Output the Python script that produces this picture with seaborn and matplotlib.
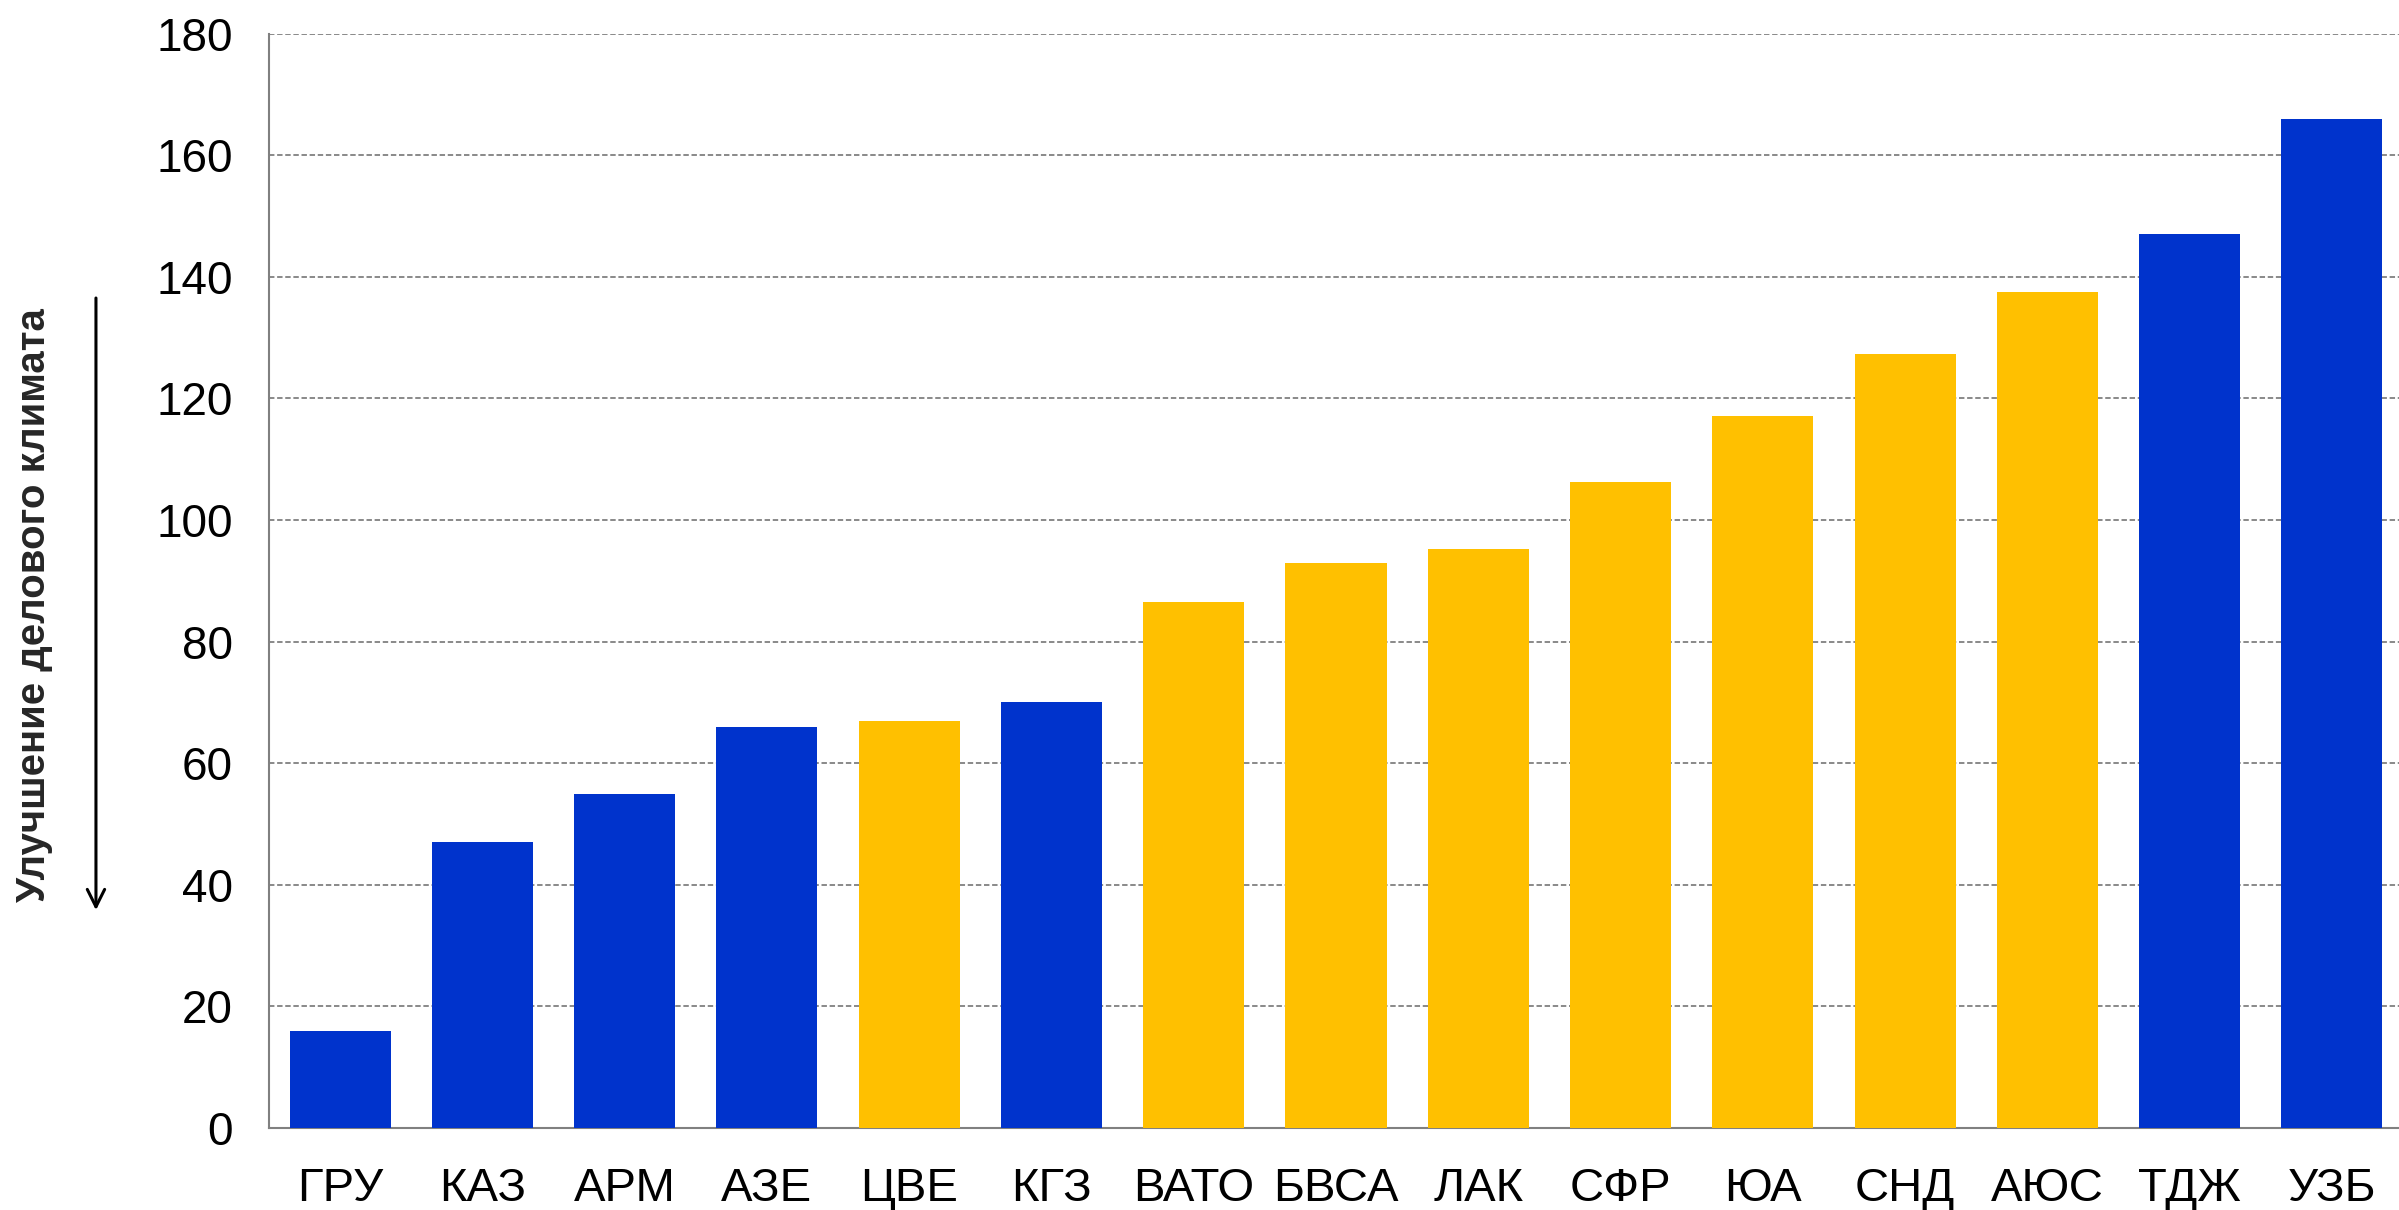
import numpy as np
import pandas as pd
import matplotlib
matplotlib.use('Agg')
import matplotlib.pyplot as plt
import seaborn as sns

# данные
countries = ['ГРУ', 'КАЗ', 'АРМ', 'АЗЕ', 'ЦВЕ', 'КГЗ', 'ВАТО', 'БВСА', 'ЛАК',
             'СФР', 'ЮА', 'СНД', 'АЮС', 'ТДЖ', 'УЗБ']
rank = [16, 47, 55, 66, 67, 70, 86.6, 93, 95.2, 106.2, 117.1, 127.4, 137.5, 147, 166]
group = ['страна', 'страна', 'страна', 'страна', 'регион', 'страна', 'регион', 'регион',
         'регион', 'регион', 'регион', 'регион', 'регион', 'страна', 'страна']
yticks = [0, 20, 40, 60, 80, 100, 120, 140, 160, 180]

df = pd.DataFrame({'страна': countries, 'место': rank, 'группа': group})
palette = {'страна': '#0033CC', 'регион': '#FFC000'}

sns.set_style('white')
plt.rcParams['font.family'] = ['Liberation Sans', 'DejaVu Sans']

fig = plt.figure(figsize=(23.99, 12.10), dpi=100)
ax = fig.add_axes([0.1121, 0.0678, 0.8896, 0.9043])

sns.barplot(data=df, x='страна', y='место', hue='группа', palette=palette,
            dodge=False, width=0.71, legend=False, edgecolor='none',
            saturation=1, ax=ax, zorder=3)

# сетка
ax.set_ylim(0, 180)
ax.set_xlim(-0.5, 14.5)
ax.set_yticks(yticks)
ax.yaxis.grid(True, linestyle=(0, (3, 1.5)), color='#808080', linewidth=1.3, zorder=0)
ax.xaxis.grid(False)

for side in ['top', 'right']:
    ax.spines[side].set_visible(False)
for side in ['left', 'bottom']:
    ax.spines[side].set_color('#808080')
    ax.spines[side].set_linewidth(1.5)

ax.tick_params(axis='y', labelsize=33, length=0, pad=26, labelcolor='black')
ax.tick_params(axis='x', labelsize=34, length=0, pad=28, labelcolor='black')
ax.set_xticks(np.arange(0.5, 14.5, 1), minor=True)
ax.tick_params(axis='x', which='minor', direction='in', length=8, color='#808080', width=1.5)
ax.set_xlabel('')
ax.set_ylabel('')

# подпись оси и стрелка
fig.text(0.014, 0.50, 'Улучшение делового климата', rotation=90, ha='center', va='center',
         fontsize=29, fontweight='bold',
         family=['Liberation Sans Narrow', 'Liberation Sans', 'DejaVu Sans'])
ax.annotate('', xy=(0.040, 0.2455), xytext=(0.040, 0.756),
            xycoords='figure fraction', textcoords='figure fraction',
            arrowprops=dict(arrowstyle='->,head_length=0.5,head_width=0.25',
                            color='black', lw=2.2, mutation_scale=25))

fig.savefig('out.png', dpi=100)
